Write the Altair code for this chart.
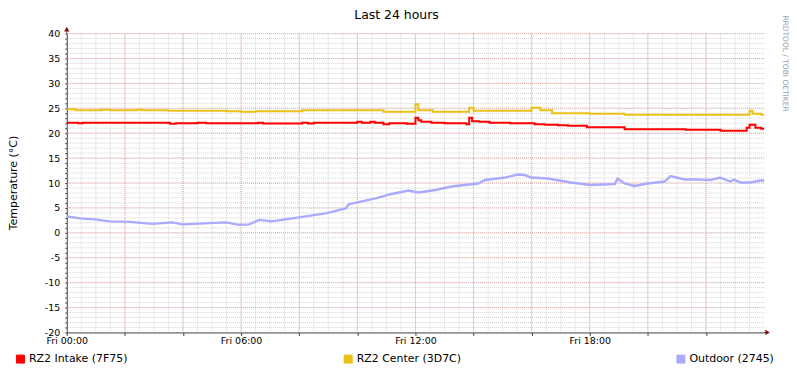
import altair as alt
import pandas as pd

FONT = "DejaVu Sans"

series_names = ["RZ2 Intake (7F75)", "RZ2 Center (3D7C)", "Outdoor (2745)"]
series_colors = ["#FF0000", "#EAC117", "#AAAAFF"]

intake_hours = [0, 0.4, 0.55, 3.55, 3.75, 4.5, 4.8, 6.6, 6.75, 8.1, 8.3, 8.5, 10.0, 10.15, 10.45,
                10.6, 10.9, 11.1, 11.7, 12.0, 12.1, 12.2, 12.55, 13.0, 13.75, 13.85, 13.95, 14.2,
                14.55, 15.25, 16.1, 16.45, 16.9, 17.25, 17.9, 19.2, 21.3, 22.5, 23.4, 23.5, 23.7,
                23.9, 24]
intake_temps = [22.1, 22.0, 22.1, 21.9, 22.0, 22.1, 22.0, 22.1, 21.95, 22.1, 21.95, 22.1, 22.3, 22.1,
                22.3, 22.1, 21.8, 22.0, 21.9, 23.1, 22.6, 22.3, 22.1, 22.0, 21.8, 23.1, 22.4, 22.3,
                22.1, 22.0, 21.8, 21.7, 21.6, 21.5, 21.2, 20.8, 20.7, 20.5, 21.1, 21.7, 21.1,
                20.9, 20.9]

center_hours = [0, 0.3, 1.2, 1.5, 2.4, 2.6, 3.5, 5.5, 6.0, 6.5, 8.1, 10.9, 12.0, 12.1, 12.6, 13.85,
                14.0, 16.0, 16.3, 16.7, 18.0, 19.2, 23.5, 23.6, 23.9, 24]
center_temps = [24.8, 24.6, 24.7, 24.6, 24.7, 24.6, 24.5, 24.4, 24.3, 24.4, 24.6, 24.3, 25.8, 24.6,
                24.3, 25.1, 24.5, 25.1, 24.6, 24.0, 23.9, 23.7, 24.5, 23.9, 23.7, 23.7]

outdoor_hours = [0, 0.45, 0.96, 1.47, 2.16, 2.95, 3.63, 3.98, 4.73, 5.49, 5.93, 6.28, 6.62, 7.06,
                 7.99, 8.91, 9.6, 9.7, 10.63, 11.18, 11.76, 12.1, 12.69, 13.23, 14.16, 14.4, 15.09,
                 15.53, 15.77, 15.98, 16.56, 17.35, 18.03, 18.86, 18.96, 19.2, 19.54, 19.99, 20.57,
                 20.78, 21.26, 21.7, 22.15, 22.49, 22.83, 22.97, 23.18, 23.52, 23.86, 24]
outdoor_temps = [3.3, 2.9, 2.7, 2.3, 2.2, 1.8, 2.1, 1.7, 1.9, 2.1, 1.6, 1.7, 2.6, 2.3,
                 3.1, 3.9, 4.9, 5.7, 6.9, 7.8, 8.5, 8.1, 8.6, 9.3, 9.9, 10.6, 11.1,
                 11.7, 11.6, 11.1, 10.9, 10.1, 9.6, 9.8, 10.9, 9.9, 9.4, 9.9, 10.3,
                 11.4, 10.7, 10.7, 10.6, 11.1, 10.3, 10.7, 10.1, 10.1, 10.5, 10.5]

x_major_ticks = [0, 2, 4, 6, 8, 10, 12, 14, 16, 18, 20, 22]
x_minor_grid = [h / 2 for h in range(1, 48)]
y_major_grid = [-15, -10, -5, 0, 5, 10, 15, 20, 25, 30, 35, 40]
y_minor_grid = list(range(-19, 41))
y_ticks = list(range(-20, 41))

step_df = pd.DataFrame({
    "h": intake_hours + center_hours,
    "v": intake_temps + center_temps,
    "s": [series_names[0]] * len(intake_hours) + [series_names[1]] * len(center_hours),
})
out_df = pd.DataFrame({"h": outdoor_hours, "v": outdoor_temps, "s": [series_names[2]] * len(outdoor_hours)})
legend_df = pd.DataFrame({"s": series_names})

xs = alt.Scale(domain=[0, 24], nice=False, zero=False)
ys = alt.Scale(domain=[-20, 40], nice=False, zero=False)
cs = alt.Scale(domain=series_names, range=series_colors)

legend = alt.Legend(
    orient="none", legendX=-52, legendY=321, direction="horizontal", title=None,
    symbolType="square", symbolSize=64, symbolStrokeWidth=1, symbolStrokeColor="#000000",
    symbolOpacity=1, labelFont=FONT, labelFontSize=11,
    labelColor="#000000", labelOffset=3, columnPadding=214, padding=0,
)

x_axis = alt.Axis(
    values=x_major_ticks, title=None, grid=False, labelOverlap=False, labelFont=FONT,
    labelFontSize=9.5, labelColor="#000000", labelPadding=0, tickSize=3, tickColor="#404040",
    domainColor="#404040", labelFlush=False,
    labelExpr="datum.value % 6 == 0 ? 'Fri ' + (datum.value < 10 ? '0' : '') + datum.value + ':00' : ''",
)
y_axis = alt.Axis(
    values=y_ticks, title="Temperature (°C)", grid=False, labelOverlap=False, labelFont=FONT,
    labelFontSize=9.5, labelColor="#000000", labelPadding=5, tickSize=2, tickColor="#404040",
    domainColor="#404040", labelExpr="datum.value % 5 == 0 ? datum.value : ''",
    titleFont=FONT, titleFontSize=11, titleFontWeight="normal", titleColor="#000000",
    titleX=-53, titleY=149.5, titleAngle=-90, titleAlign="center", titleBaseline="middle",
)

minor_x = alt.Chart(pd.DataFrame({"h": x_minor_grid})).mark_rule(
    color="#D4D4D4", strokeWidth=1, strokeDash=[1, 1]).encode(x=alt.X("h:Q", scale=xs, axis=x_axis))
minor_y = alt.Chart(pd.DataFrame({"v": y_minor_grid})).mark_rule(
    color="#D4D4D4", strokeWidth=1, strokeDash=[1, 1]).encode(y=alt.Y("v:Q", scale=ys, axis=y_axis))
major_x = alt.Chart(pd.DataFrame({"h": x_major_ticks[1:]})).mark_rule(
    color="#E8A8A8", strokeWidth=1, strokeDash=[1, 1]).encode(x=alt.X("h:Q", scale=xs, axis=x_axis))
major_y = alt.Chart(pd.DataFrame({"v": y_major_grid})).mark_rule(
    color="#E8A8A8", strokeWidth=1, strokeDash=[1, 1]).encode(y=alt.Y("v:Q", scale=ys, axis=y_axis))

legend_layer = alt.Chart(legend_df).mark_square(filled=True, opacity=0, size=1).encode(
    color=alt.Color("s:N", scale=cs, legend=legend),
)
steps = alt.Chart(step_df).mark_line(interpolate="step-after", strokeWidth=2).encode(
    x=alt.X("h:Q", scale=xs, axis=x_axis),
    y=alt.Y("v:Q", scale=ys, axis=y_axis),
    color=alt.Color("s:N", scale=cs, legend=legend),
    order=alt.Order("h:Q"),
)
outdoor = alt.Chart(out_df).mark_line(interpolate="linear", strokeWidth=2.4).encode(
    x=alt.X("h:Q", scale=xs, axis=x_axis),
    y=alt.Y("v:Q", scale=ys, axis=y_axis),
    color=alt.Color("s:N", scale=cs, legend=legend),
    order=alt.Order("h:Q"),
)

one = pd.DataFrame({"a": [0]})
arrow_col = "#801010"
y_ext = alt.Chart(one).mark_rule(color="#404040").encode(
    x=alt.value(0), y=alt.value(-3), y2=alt.value(0))
x_ext = alt.Chart(one).mark_rule(color="#404040").encode(
    x=alt.value(700), x2=alt.value(702), y=alt.value(300))
y_arrow = alt.Chart(one).mark_point(shape="triangle-up", filled=True, color=arrow_col, size=28, opacity=1).encode(
    x=alt.value(0), y=alt.value(-4.5))
x_arrow = alt.Chart(one).mark_point(shape="triangle-right", filled=True, color=arrow_col, size=28, opacity=1).encode(
    x=alt.value(703.5), y=alt.value(300))

title = alt.Chart(pd.DataFrame({"t": ["Last 24 hours"]})).mark_text(
    font=FONT, fontSize=12.5, color="#000000", align="center", baseline="alphabetic").encode(
    text="t:N", x=alt.value(331), y=alt.value(-14.7))
credit = alt.Chart(pd.DataFrame({"t": ["RRDTOOL / TOBI OETIKER"]})).mark_text(
    font=FONT, fontSize=7.5, color="#A0A0A0", align="center", baseline="middle", angle=90).encode(
    text="t:N", x=alt.value(721), y=alt.value(30))

chart = alt.layer(
    minor_x, minor_y, major_x, major_y, legend_layer, steps, outdoor,
    y_ext, x_ext, y_arrow, x_arrow, title, credit
).properties(
    width=700, height=300,
    autosize=alt.AutoSizeParams(type="none"),
    padding={"left": 59, "top": 25, "right": 25, "bottom": 32},
    background="#FFFFFF",
).configure_view(stroke=None)

chart.save("out.html", embed_options={"renderer": "svg", "actions": False})
